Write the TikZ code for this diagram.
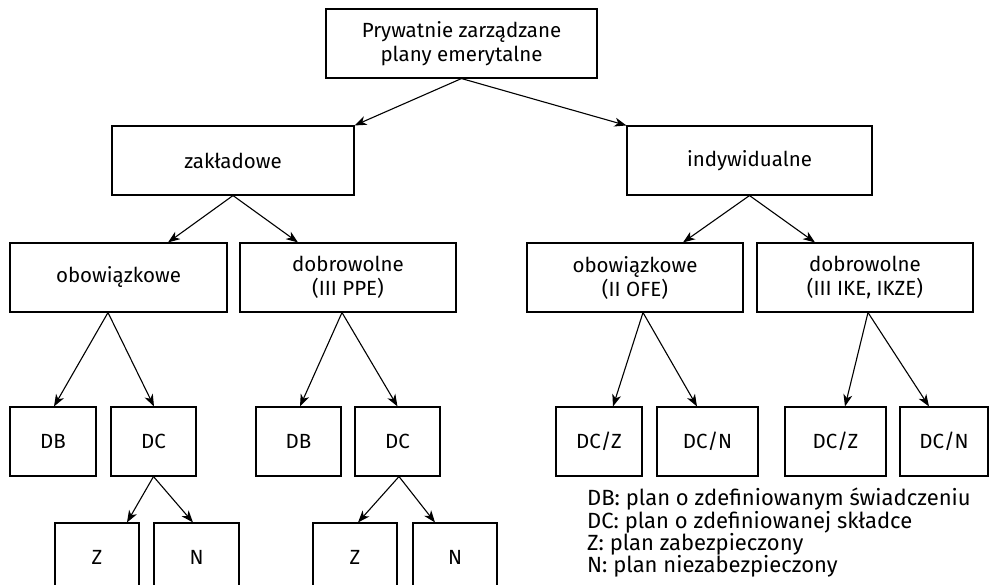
\documentclass[tikz,border=0pt]{standalone}
\usepackage{fontspec}
\setmainfont{Fira Sans}
\usetikzlibrary{arrows.meta}
\begin{document}
\begin{tikzpicture}[x=1pt,y=-1pt,
  box/.style={draw, line width=1.1pt, rectangle, minimum height=69pt, inner sep=0pt, align=center, font=\fontsize{20.5}{24}\selectfont},
  arr/.style={line width=1.1pt, -{Stealth[length=12pt,width=9pt,inset=3.5pt]}},
  legend/.style={font=\fontsize{22}{22.3}\selectfont, anchor=base west, inner sep=0pt}]
\useasboundingbox (0,0) rectangle (989,585);
% level 0
\node[box, minimum width=271pt] (top) at (461.5,43.5) {Prywatnie zarządzane\\plany emerytalne};
% level 1
\node[box, minimum width=242pt] (zak) at (233,160.5) {zakładowe};
\node[box, minimum width=245pt] (ind) at (749.5,160.5) {indywidualne};
% level 2
\node[box, minimum width=217pt] (obo1) at (118.5,277.5) {obowiązkowe};
\node[box, minimum width=216pt] (dob1) at (348,277.5) {dobrowolne\\(III PPE)};
\node[box, minimum width=216pt] (obo2) at (635,277.5) {obowiązkowe\\(II OFE)};
\node[box, minimum width=216pt] (dob2) at (865,277.5) {dobrowolne\\(III IKE, IKZE)};
% level 3
\node[box, minimum width=86pt] (db1) at (53,441.5) {DB};
\node[box, minimum width=85pt] (dc1) at (153.5,441.5) {DC};
\node[box, minimum width=85pt] (db2) at (298.5,441.5) {DB};
\node[box, minimum width=85pt] (dc2) at (397.5,441.5) {DC};
\node[box, minimum width=86pt] (dcz1) at (599,441.5) {DC/Z};
\node[box, minimum width=101pt] (dcn1) at (707.5,441.5) {DC/N};
\node[box, minimum width=101pt] (dcz2) at (835.5,441.5) {DC/Z};
\node[box, minimum width=88pt] (dcn2) at (944,441.5) {DC/N};
% level 4
\node[box, minimum width=84pt] (z1) at (97,557.5) {Z};
\node[box, minimum width=85pt] (n1) at (196.5,557.5) {N};
\node[box, minimum width=84pt] (z2) at (355,557.5) {Z};
\node[box, minimum width=84pt] (n2) at (455,557.5) {N};
% legend
\node[legend] (leg1) at (587,506) {DB: plan o zdefiniowanym świadczeniu};
\node[legend] (leg2) at (587,528.3) {DC: plan o zdefiniowanej składce};
\node[legend] (leg3) at (587,550.6) {Z: plan zabezpieczony};
\node[legend] (leg4) at (587,572.9) {N: plan niezabezpieczony};
% arrows
\draw[arr] (top.south) -- (zak.north east);
\draw[arr] (top.south) -- (ind.north west);
\draw[arr] (zak.south) -- ([xshift=49.5pt]obo1.north);
\draw[arr] (zak.south) -- ([xshift=-50pt]dob1.north);
\draw[arr] (ind.south) -- ([xshift=48pt]obo2.north);
\draw[arr] (ind.south) -- ([xshift=-50pt]dob2.north);
\draw[arr] ([xshift=-10.5pt]obo1.south) -- ([xshift=1pt]db1.north);
\draw[arr] ([xshift=-10.5pt]obo1.south) -- ([xshift=0.5pt]dc1.north);
\draw[arr] ([xshift=-6pt]dob1.south) -- ([xshift=1.5pt]db2.north);
\draw[arr] ([xshift=-6pt]dob1.south) -- (dc2.north);
\draw[arr] ([xshift=8pt]obo2.south) -- ([xshift=14pt]dcz1.north);
\draw[arr] ([xshift=8pt]obo2.south) -- ([xshift=-10.5pt]dcn1.north);
\draw[arr] ([xshift=3pt]dob2.south) -- ([xshift=9.5pt]dcz2.north);
\draw[arr] ([xshift=3pt]dob2.south) -- ([xshift=-15pt]dcn2.north);
\draw[arr] (dc1.south) -- ([xshift=30pt]z1.north);
\draw[arr] (dc1.south) -- ([xshift=-3.5pt]n1.north);
\draw[arr] ([xshift=1.5pt]dc2.south) -- ([xshift=3pt]z2.north);
\draw[arr] ([xshift=1.5pt]dc2.south) -- ([xshift=-20pt]n2.north);
\end{tikzpicture}
\end{document}
